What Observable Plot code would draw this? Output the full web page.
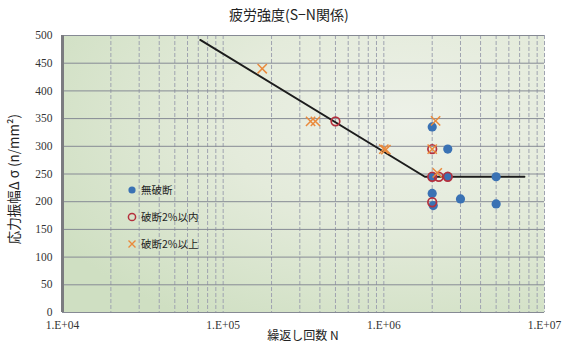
<!DOCTYPE html>
<html>
<head>
<meta charset="utf-8">
<script src="https://cdn.jsdelivr.net/npm/d3@7"></script>
<script src="https://cdn.jsdelivr.net/npm/@observablehq/plot@0.6"></script>
<style>
  html, body { margin: 0; padding: 0; background: #fff; }
  #chart { position: relative; width: 562px; height: 344px; font-family: "Noto Sans CJK JP", "Noto Sans", sans-serif; color: #222; }
  #chart > svg { position: absolute; left: 0; top: 0; }
  .title { position: absolute; left: 229px; top: 7px; font-size: 14px; line-height: 1; white-space: nowrap; }
  .ylab { position: absolute; left: 14px; top: 179px; font-size: 13.5px; line-height: 1; white-space: nowrap; transform: translate(-50%, -50%) rotate(-90deg); }
  .xlab { position: absolute; left: 303px; top: 329px; font-size: 12px; line-height: 1; white-space: nowrap; transform: translateX(-50%); }
  .legend { position: absolute; left: 126px; top: 176px; font-size: 10.5px; }
  .legend div { display: flex; align-items: center; height: 27px; }
  .legend svg { margin-right: 3px; }
</style>
</head>
<body>
<div id="chart">
  <div class="title">疲労強度(S−N関係)</div>
  <div class="ylab">応力振幅Δ σ (n/mm²)</div>
  <div class="xlab">繰返し回数 N</div>
</div>
<script>
// Cycles N and stress range Δσ (N/mm²) for each outcome
const noFailN = [2.0e6, 2.5e6, 2.0e6, 2.5e6, 5.0e6, 2.0e6, 3.0e6, 2.03e6, 5.0e6];
const noFailS = [335, 295, 245, 245, 245, 215, 205, 193, 196];

const within2N = [5.0e5, 2.0e6, 2.0e6, 2.2e6, 2.5e6, 2.0e6];
const within2S = [345, 295, 245, 245, 245, 199];

const over2N = [1.75e5, 3.5e5, 3.75e5, 1.0e6, 1.03e6, 2.1e6, 2.0e6, 2.15e6];
const over2S = [440, 345, 345, 295, 294, 346, 295, 252];

// S-N design curve: sloped part then fatigue limit
const curveN = [7.2e4, 1.8e6, 7.5e6];
const curveS = [492, 245, 245];

// Axis ticks
const yTicks = d3.range(0, 501, 50);
const xMajor = [1e4, 1e5, 1e6, 1e7];
const xMinor = [1e4, 1e5, 1e6].flatMap(d => d3.range(2, 11).map(k => k * d));

const zip = (xs, ys) => xs.map((x, i) => ({N: x, S: ys[i]}));
const noFail = zip(noFailN, noFailS);
const within2 = zip(within2N, within2S);
const over2 = zip(over2N, over2S);
const curve = zip(curveN, curveS);

const BLUE = "#3a72b4", RED = "#b5303d", ORANGE = "#ea8a3c";
const SERIF = "'Liberation Serif', 'DejaVu Serif', serif";

const svg = Plot.plot({
  width: 562,
  height: 344,
  marginLeft: 62,
  marginRight: 18,
  marginTop: 35,
  marginBottom: 32,
  style: {background: "transparent", fontSize: "11.5px", color: "#333"},
  x: {type: "log", domain: [1e4, 1e7]},
  y: {domain: [0, 500]},
  marks: [
    Plot.frame({fill: "url(#plotbg)", stroke: "none"}),
    Plot.ruleX(xMinor, {stroke: "#9fa3b0", strokeWidth: 1, strokeDasharray: "4,2"}),
    Plot.ruleY(yTicks, {stroke: "#868a94", strokeWidth: 1}),
    Plot.ruleX([1e4], {stroke: "#7b7b80", strokeWidth: 3}),
    Plot.axisY({ticks: yTicks, tickSize: 0, tickPadding: 10, label: null, fill: "#333", fontFamily: SERIF, fontSize: 11.5}),
    Plot.axisX({ticks: xMajor, tickSize: 0, tickPadding: 8, label: null, fill: "#333", fontFamily: SERIF, fontSize: 11.5,
      tickFormat: d => "1.E+" + String(Math.round(Math.log10(d))).padStart(2, "0")}),
    Plot.line(curve, {x: "N", y: "S", stroke: "#1c1c1c", strokeWidth: 2}),
    Plot.dot(noFail, {x: "N", y: "S", r: 4.6, fill: BLUE, stroke: "none"}),
    Plot.dot(within2, {x: "N", y: "S", r: 4.3, fill: "none", stroke: RED, strokeWidth: 1.7}),
    Plot.dot(over2, {x: "N", y: "S", r: 4.3, symbol: "times", stroke: ORANGE, strokeWidth: 1.5})
  ]
});

// Soft green background gradient for the plotting area
const defs = d3.select(svg).insert("defs", ":first-child");
const grad = defs.append("radialGradient").attr("id", "plotbg")
  .attr("cx", 0.72).attr("cy", 0.3).attr("r", 0.85);
grad.append("stop").attr("offset", "0%").attr("stop-color", "#edf1e8");
grad.append("stop").attr("offset", "45%").attr("stop-color", "#e4ebdb");
grad.append("stop").attr("offset", "100%").attr("stop-color", "#cfdfc2");

const chart = document.getElementById("chart");
chart.insertBefore(svg, chart.firstChild);

// Legend inside the plotting area
const legendItems = [
  {label: "無破断", kind: "dot"},
  {label: "破断2%以内", kind: "circle"},
  {label: "破断2%以上", kind: "times"}
];
const legend = d3.select(chart).append("div").attr("class", "legend");
legendItems.forEach(item => {
  const row = legend.append("div");
  const s = row.append("svg").attr("width", 12).attr("height", 12);
  if (item.kind === "dot") s.append("circle").attr("cx", 6).attr("cy", 6).attr("r", 3.6).attr("fill", BLUE);
  if (item.kind === "circle") s.append("circle").attr("cx", 6).attr("cy", 6).attr("r", 3.6).attr("fill", "none").attr("stroke", RED).attr("stroke-width", 1.5);
  if (item.kind === "times") s.append("path").attr("d", "M2.5,2.5L9.5,9.5M9.5,2.5L2.5,9.5").attr("stroke", ORANGE).attr("stroke-width", 1.4);
  row.append("span").text(item.label);
});
</script>
</body>
</html>
